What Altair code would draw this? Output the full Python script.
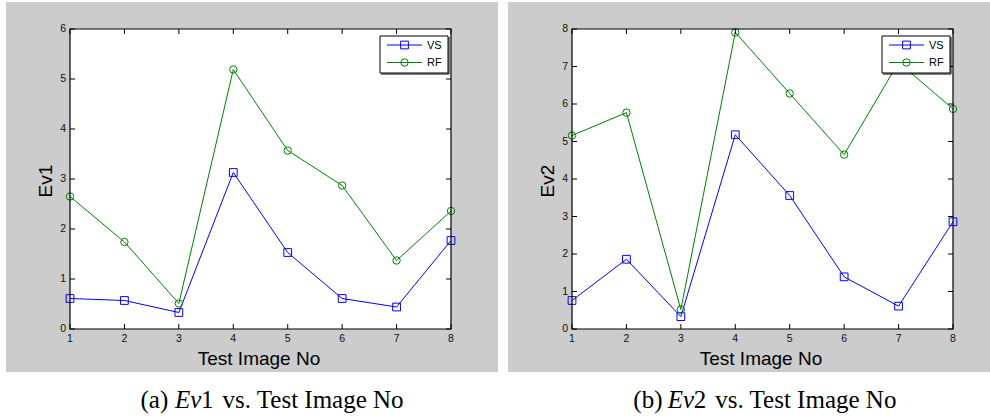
import altair as alt
import pandas as pd

# Test images on the x axis
images = [1, 2, 3, 4, 5, 6, 7, 8]

# Series (legend order), colours and marker shapes
series_names = ["VS", "RF"]
series_colors = ["#0000ff", "#008000"]
series_shapes = ["square", "circle"]
series_sizes = [60, 55]

# Ev1 per test image
ev1_vs = [0.61, 0.57, 0.33, 3.13, 1.53, 0.61, 0.44, 1.77]
ev1_rf = [2.65, 1.74, 0.51, 5.19, 3.57, 2.87, 1.37, 2.36]

# Ev2 per test image
ev2_vs = [0.76, 1.86, 0.33, 5.18, 3.56, 1.39, 0.61, 2.86]
ev2_rf = [5.16, 5.77, 0.52, 7.91, 6.28, 4.65, 7.11, 5.87]

ev1_ticks = [0, 1, 2, 3, 4, 5, 6]
ev2_ticks = [0, 1, 2, 3, 4, 5, 6, 7, 8]

W, H = 381, 300
SANS = "Liberation Sans"
SERIF = "Liberation Serif"

one = pd.DataFrame({"k": [0]})


def white_box(x, x2, y, y2):
    return alt.Chart(one).mark_rect(color="white").encode(
        x=alt.value(x), x2=alt.value(x2), y=alt.value(y), y2=alt.value(y2))


def label(text, x, y, **kw):
    return alt.Chart(one).mark_text(text=text, color="black", **kw).encode(
        x=alt.value(x), y=alt.value(y))


def panel(vs, rf, ylabel, ymax, yticks, tag, num, cap_x, first):
    df = pd.DataFrame({
        "image": images * 2,
        "value": vs + rf,
        "series": ["VS"] * len(images) + ["RF"] * len(images),
    })
    xs = alt.Scale(domain=[1, 8], nice=False, zero=False)
    ys = alt.Scale(domain=[0, ymax], nice=False, zero=True)
    color = alt.Color("series:N", scale=alt.Scale(domain=series_names, range=series_colors), legend=None)

    # page is grey; white margins around each figure and the white axes area
    right_edge = W + 57 if first else W + 37
    whites = [
        white_box(-64, right_edge, -29, -27),   # strip above
        white_box(-64, right_edge, 343, 388),   # caption band
        white_box(0, W, 0, H),                  # axes area
    ]
    if first:
        whites += [white_box(-70, -64, -29, 388), white_box(W + 47, W + 57, -29, 388)]

    lines = alt.Chart(df).mark_line(strokeWidth=1).encode(
        x=alt.X("image:Q", scale=xs, axis=None),
        y=alt.Y("value:Q", scale=ys, axis=None),
        color=color,
        detail="series:N",
    )
    points = alt.Chart(df).mark_point(filled=False, strokeWidth=1, opacity=1).encode(
        x=alt.X("image:Q", scale=xs, axis=None),
        y=alt.Y("value:Q", scale=ys, axis=None),
        color=color,
        shape=alt.Shape("series:N", scale=alt.Scale(domain=series_names, range=series_shapes), legend=None),
        size=alt.Size("series:N", scale=alt.Scale(domain=series_names, range=series_sizes), legend=None),
    )

    # inward ticks on all four sides, and tick labels
    xt = pd.DataFrame({"t": images})
    yt = pd.DataFrame({"t": yticks})
    tick_layers = [
        alt.Chart(xt).mark_rule(color="black", strokeWidth=1).encode(
            x=alt.X("t:Q", scale=xs, axis=None), y=alt.value(H), y2=alt.value(H - 5)),
        alt.Chart(xt).mark_rule(color="black", strokeWidth=1).encode(
            x=alt.X("t:Q", scale=xs, axis=None), y=alt.value(0), y2=alt.value(5)),
        alt.Chart(yt).mark_rule(color="black", strokeWidth=1).encode(
            y=alt.Y("t:Q", scale=ys, axis=None), x=alt.value(0), x2=alt.value(5)),
        alt.Chart(yt).mark_rule(color="black", strokeWidth=1).encode(
            y=alt.Y("t:Q", scale=ys, axis=None), x=alt.value(W - 5), x2=alt.value(W)),
        alt.Chart(xt).mark_text(font=SANS, fontSize=10.5, color="#111111", baseline="top", align="center").encode(
            x=alt.X("t:Q", scale=xs, axis=None), y=alt.value(H + 5), text="t:Q"),
        alt.Chart(yt).mark_text(font=SANS, fontSize=10.5, color="#111111", baseline="middle", align="right").encode(
            y=alt.Y("t:Q", scale=ys, axis=None), x=alt.value(-4), text="t:Q"),
    ]
    titles = [
        label("Test Image No", 189, H + 35.5, font=SANS, fontSize=19, align="center", baseline="alphabetic"),
        label(ylabel, -18, H / 2 + 2, font=SANS, fontSize=19, align="center", baseline="alphabetic", angle=270),
    ]
    frame = alt.Chart(one).mark_rect(fill="white", fillOpacity=0, stroke="black", strokeWidth=1.2).encode(
        x=alt.value(0), x2=alt.value(W), y=alt.value(0), y2=alt.value(H))

    # legend box
    lx0, lx1, ly0, ly1 = 310, 378, 7, 44
    legend_layers = [
        alt.Chart(one).mark_rect(fill="white", stroke="black", strokeWidth=1).encode(
            x=alt.value(lx0), x2=alt.value(lx1), y=alt.value(ly0), y2=alt.value(ly1)),
        alt.Chart(one).mark_rule(color="black", strokeWidth=1).encode(
            x=alt.value(lx1 + 1), y=alt.value(ly0 + 1), y2=alt.value(ly1 + 1)),
        alt.Chart(one).mark_rule(color="black", strokeWidth=1).encode(
            x=alt.value(lx0 + 1), x2=alt.value(lx1 + 1), y=alt.value(ly1 + 1)),
    ]
    for i, name in enumerate(series_names):
        ry = 16 + i * 17.5
        legend_layers += [
            alt.Chart(one).mark_rule(color=series_colors[i], strokeWidth=1).encode(
                x=alt.value(317), x2=alt.value(352), y=alt.value(ry)),
            alt.Chart(one).mark_point(filled=False, strokeWidth=1, opacity=1, shape=series_shapes[i],
                                      size=series_sizes[i], color=series_colors[i]).encode(
                x=alt.value(334.5), y=alt.value(ry)),
            label(name, 357, ry + 0.5, font=SANS, fontSize=11, align="left", baseline="middle"),
        ]

    # sub-figure caption
    cap_y = 379
    caption = [
        label(f"({tag})", cap_x, cap_y, font=SERIF, fontSize=25, align="left", baseline="alphabetic"),
        label("Ev", cap_x + 34.5, cap_y, font=SERIF, fontStyle="italic", fontSize=25,
              align="left", baseline="alphabetic"),
        label(num, cap_x + 60.5, cap_y, font=SERIF, fontSize=25, align="left", baseline="alphabetic"),
        label("vs. Test Image No", cap_x + 82, cap_y, font=SERIF, fontSize=25,
              align="left", baseline="alphabetic"),
    ]

    return alt.layer(*whites, lines, points, *tick_layers, *titles, frame, *legend_layers, *caption).properties(
        width=W, height=H)


left = panel(ev1_vs, ev1_rf, "Ev1", 6, ev1_ticks, "a", "1", 70.5, True)
right = panel(ev2_vs, ev2_rf, "Ev2", 8, ev2_ticks, "b", "2", 61.3, False)

chart = alt.hconcat(left, right, spacing=0).properties(
    padding={"left": 0, "top": 0, "right": 0, "bottom": 0},
    background="#cccccc",
).configure_view(stroke=None)

chart.save("out.html", embed_options={"renderer": "svg", "actions": False})
